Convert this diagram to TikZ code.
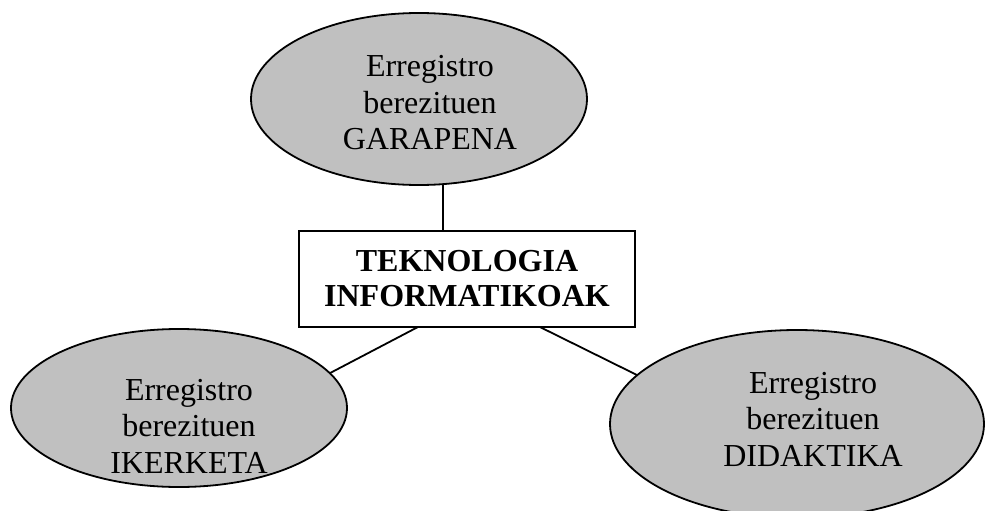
\documentclass[tikz,border=0pt]{standalone}
\usepackage{fontspec}
\setmainfont{Liberation Serif}
\usetikzlibrary{shapes.geometric,calc}
\definecolor{ovalgray}{RGB}{192,192,192}
\tikzset{
	oval/.style={ellipse, draw, fill=ovalgray, inner sep=0pt, outer sep=0pt},
	ovaltext/.style={align=center, inner sep=0pt, font=\fontsize{32}{36.5}\selectfont},
	techbox/.style={draw, align=center, inner sep=0pt, outer sep=0pt, minimum width=336pt, minimum height=96pt, font=\fontsize{32}{35}\selectfont\bfseries}
}
\begin{document}
\begin{tikzpicture}[x=1pt, y=1pt, line width=1.8pt]
		\useasboundingbox (0,0) rectangle (985,-511);
		
		% 1. GARAPENA ellipse (top)
		\node[oval, minimum width=336pt, minimum height=172pt] (garapena) at (419,-99) {};
		\node[ovaltext] (garapenatext) at (430,-103) {Erregistro\\berezituen\\GARAPENA};
		
		% 2. Central box
		\node[techbox] (informatika) at (467,-279) {TEKNOLOGIA\\INFORMATIKOAK};
		
		% 3. IKERKETA ellipse (bottom left)
		\node[oval, minimum width=336pt, minimum height=158pt] (ikerketa) at (179,-408) {};
		\node[ovaltext] (ikerketatext) at (189,-426) {Erregistro\\berezituen\\IKERKETA};
		
		% 4. DIDAKTIKA ellipse (bottom right, runs off the page)
		\node[oval, minimum width=374pt, minimum height=188pt] (didaktika) at (797,-424) {};
		\node[ovaltext] (didaktikatext) at (813,-419) {Erregistro\\berezituen\\DIDAKTIKA};
		
		% --- Connectors ---
		\draw (garapena.-74) -- (garapena.-74 |- informatika.north);
		\draw ($(informatika.south west)!0.354!(informatika.south east)$) -- (ikerketa.13);
		\draw ($(informatika.south west)!0.717!(informatika.south east)$) -- (didaktika.163);
		
\end{tikzpicture}
\end{document}
